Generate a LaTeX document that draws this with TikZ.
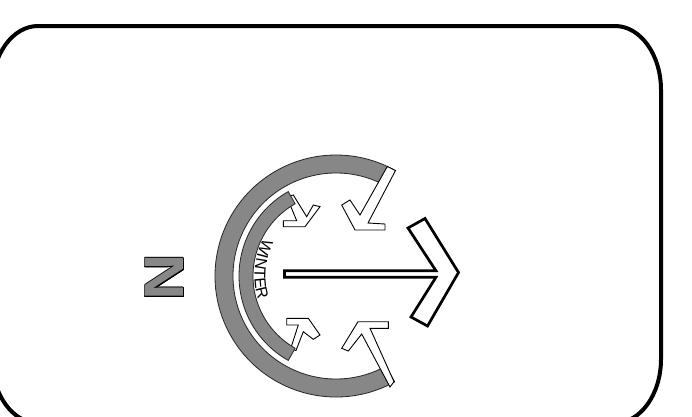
\documentclass[tikz,border=0pt]{standalone}
\usepackage{fontspec}
\setmainfont{Liberation Sans}
\newfontfamily\nfont{Liberation Sans}
\usepackage{contour}
\contourlength{0.7pt}
\usetikzlibrary{decorations.text}
\definecolor{bandgray}{RGB}{135,135,135}
\newcommand{\wfont}{\fontsize{16}{16}\selectfont}
\begin{document}
\begin{tikzpicture}[x=1pt,y=-1pt,
  band/.style={fill=bandgray, draw=black!85, line width=0.8pt},
  windarrow/.style={fill=white, draw=black, line width=0.9pt, line join=miter},
  mainarrow/.style={fill=white, draw=black, line width=2.7pt, line join=miter},
  framebox/.style={draw=black, line width=4pt}]
\useasboundingbox (0,0) rectangle (692,416);
\clip (0,0) rectangle (692,416);
\fill[white] (0,0) rectangle (692,416);
% frame
\draw[framebox] (38,26) -- (615,26) arc[start angle=-90,end angle=0,x radius=46,y radius=64]
  -- (661,359) arc[start angle=0,end angle=90,x radius=46,y radius=64]
  -- (38,423) arc[start angle=90,end angle=180,x radius=46,y radius=64]
  -- (-8,90) arc[start angle=180,end angle=270,x radius=46,y radius=64] -- cycle;
% inner wind arrows
\draw[windarrow] (305,226.7) -- (283.3,226.7) -- (283.3,220.7) -- (296.7,220.7) -- (286.7,196.7)
  -- (293.3,195) -- (306.7,216.7) -- (313.3,205) -- (320,206.7) -- cycle;
\draw[windarrow] (308.3,318.3) -- (286.7,318.3) -- (286.7,325) -- (298.3,325) -- (290.5,349)
  -- (296,350.5) -- (303.3,331.7) -- (313.3,339.3) -- (320,335) -- cycle;
% bands
\begin{scope}[shift={(336,276)}]
\draw[band] (61:121) arc[start angle=61,end angle=299,radius=121] -- (299:103)
  arc[start angle=299,end angle=61,radius=103] -- cycle;
\draw[band] (119.5:97) arc[start angle=119.5,end angle=240.5,radius=97] -- (240.5:83)
  arc[start angle=240.5,end angle=119.5,radius=83] -- cycle;
\path[decorate, decoration={text along path, text={|\wfont|WINTER}, text align=center}]
  (216:81.5) arc[start angle=216,end angle=154,radius=81.5];
\end{scope}
% outer wind arrows
\draw[windarrow] (355,230) -- (341.7,205) -- (350,200) -- (360,215) -- (387.3,166.5)
  -- (395.5,170.5) -- (368,223) -- (385,224) -- (385,230) -- cycle;
\draw[windarrow] (358,321.7) -- (341.7,348.3) -- (348.3,351) -- (361.7,334) -- (390,387)
  -- (394,381.7) -- (370,328.3) -- (388.3,328.3) -- (388.3,321.7) -- cycle;
% main arrow
\draw[mainarrow] (284.5,270.8) -- (436,270.8) -- (408,228) -- (425,218.5) -- (458.5,272.5)
  -- (427.5,326) -- (411,317) -- (436,277.2) -- (284.5,277.2) -- cycle;
% north sign
\node[rotate=90, text=bandgray, inner sep=0pt, font=\nfont\bfseries\fontsize{56}{56}\selectfont]
  (north) at (165,277.5) {\scalebox{1.15}[1]{\contour{black}{N}}};
\end{tikzpicture}
\end{document}
